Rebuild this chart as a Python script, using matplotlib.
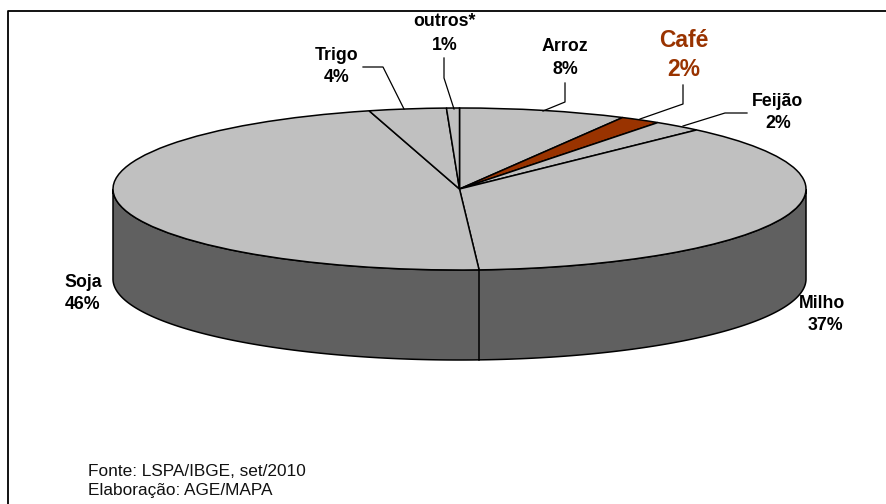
import numpy as np
import matplotlib
matplotlib.use('Agg')
import matplotlib.pyplot as plt

plt.rcParams['font.family'] = ['Liberation Sans', 'DejaVu Sans']

# shares, clockwise from 12 o'clock
categories = ['Arroz', 'Café', 'Feijão', 'Milho', 'Soja', 'Trigo', 'outros*']
values = [7.8, 1.9, 2.3, 37.1, 46.7, 3.6, 0.6]
labels = ['8%', '2%', '2%', '37%', '46%', '4%', '1%']
slice_colors = ['#C0C0C0', '#993300', '#C0C0C0', '#C0C0C0', '#C0C0C0', '#C0C0C0', '#C0C0C0']
wall_color = '#606060'

W, H = 887, 504
cx, cy = 459.5, 189
rx, ry = 346.5, 81
depth = 90

fig = plt.figure(figsize=(W / 100, H / 100), dpi=100)
ax = fig.add_axes([0, 0, 1, 1])

# pie is a unit circle in data coords, squashed by the axis limits
def ux(x):
    return (x - cx) / rx

def uy(y):
    return (cy - y) / ry

def line(xs, ys, **kw):
    ax.plot([ux(x) for x in xs], [uy(y) for y in ys], color='black', clip_on=False, **kw)

# side wall
d = depth / ry
t = np.radians(np.linspace(180, 360, 300))
wall_x = np.concatenate([np.cos(t), np.cos(t[::-1])])
wall_y = np.concatenate([np.sin(t), np.sin(t[::-1]) - d])
ax.fill(wall_x, wall_y, facecolor=wall_color, edgecolor='black', linewidth=1.1, zorder=1)

# top of the pie
ax.pie(values, colors=slice_colors, startangle=90, counterclock=False, radius=1,
       wedgeprops={'edgecolor': 'black', 'linewidth': 1.1, 'zorder': 2})
ax.set_aspect('auto')
ax.set_xlim(ux(0), ux(W))
ax.set_ylim(uy(H), uy(0))
ax.axis('off')

# wall seam under the Milho/Soja boundary
a = np.radians(90 - 3.6 * sum(values[:4]))
ax.plot([np.cos(a)] * 2, [np.sin(a), np.sin(a) - d], color='black', linewidth=1.1, zorder=3)

# frame, only top and left
line([8, 8, W], [H, 11, 11], linewidth=1.3)

# leader lines
lw = 0.9
line([363, 383, 404], [67, 67, 109], linewidth=lw)
line([444, 444, 454], [58, 78, 109], linewidth=lw)
line([565, 565, 543], [83, 102, 111], linewidth=lw)
line([683, 683, 640], [85, 104, 119], linewidth=lw)
line([747, 725, 683], [113, 113, 126], linewidth=lw)

# label positions in pixels
label_x = [565, 684, 778, 822, 83, 337, 445]
name_y = [46, 40, 101, 303, 282, 55, 21]
pct_y = [69, 69, 123, 326, 304, 77, 45]
pct_x = [565, 684, 778, 825, 83, 337, 445]

for i, name in enumerate(categories):
    if name == 'Café':
        color, size = '#993300', 16.5
    else:
        color, size = 'black', 12.8
    ax.text(ux(label_x[i]), uy(name_y[i]), name, color=color, fontsize=size, fontweight='bold',
            ha='center', va='center')
    ax.text(ux(pct_x[i]), uy(pct_y[i]), labels[i], color=color, fontsize=size, fontweight='bold',
            ha='center', va='center')

ax.text(ux(88), uy(471), 'Fonte: LSPA/IBGE, set/2010', fontsize=12.4, ha='left', va='center', color='#111111')
ax.text(ux(88), uy(491), 'Elaboração: AGE/MAPA', fontsize=12.4, ha='left', va='center', color='#111111')

fig.savefig('out.png', dpi=100)
